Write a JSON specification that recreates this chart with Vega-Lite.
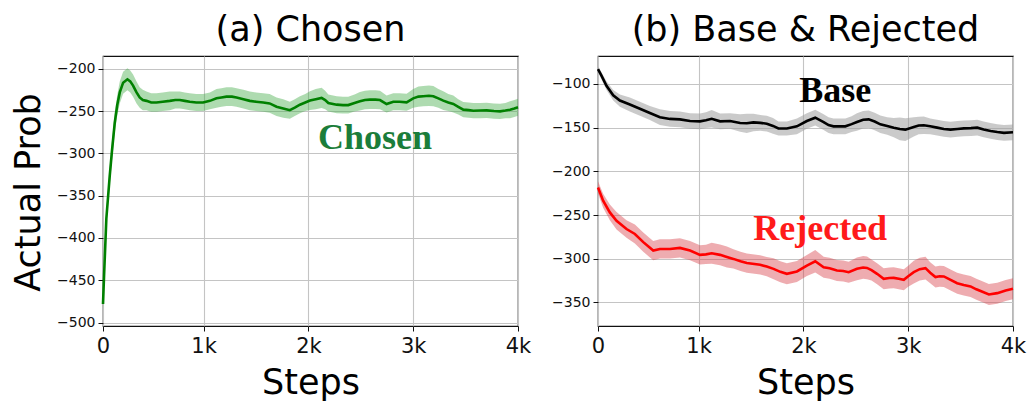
{
  "$schema": "https://vega.github.io/schema/vega-lite/v6.json",
  "padding": {"left": 10, "top": 12, "right": 5, "bottom": 5},
  "background": "white",
  "config": {
    "view": {"stroke": "#111", "strokeWidth": 1.2},
    "axis": {
      "domain": false,
      "grid": true,
      "gridColor": "#c4c4c4",
      "gridWidth": 1.1,
      "tickColor": "#111",
      "tickSize": 5,
      "tickWidth": 1,
      "labelFlush": false,
      "labelOverlap": false,
      "labelFont": "DejaVu Sans",
      "labelColor": "#111",
      "titleFont": "DejaVu Sans",
      "titleFontWeight": "normal",
      "titleColor": "black"
    },
    "title": {"font": "DejaVu Sans", "fontWeight": "normal", "color": "black"}
  },
  "datasets": {
    "chosen": [
      {"step": 40, "mean": -478, "lo": -486, "hi": -470},
      {"step": 50, "mean": -445, "lo": -454, "hi": -436},
      {"step": 72, "mean": -377, "lo": -387, "hi": -367},
      {"step": 104, "mean": -327, "lo": -338, "hi": -316},
      {"step": 125, "mean": -298, "lo": -310, "hi": -286},
      {"step": 152, "mean": -264, "lo": -276, "hi": -252},
      {"step": 176, "mean": -243, "lo": -255, "hi": -231},
      {"step": 200, "mean": -228, "lo": -241, "hi": -215},
      {"step": 232, "mean": -216.5, "lo": -229.5, "hi": -203.5},
      {"step": 273, "mean": -212.5, "lo": -225.5, "hi": -199.5},
      {"step": 300, "mean": -215, "lo": -228, "hi": -202},
      {"step": 327, "mean": -220, "lo": -233, "hi": -207},
      {"step": 360, "mean": -228, "lo": -241, "hi": -215},
      {"step": 390, "mean": -234, "lo": -246, "hi": -222},
      {"step": 420, "mean": -237, "lo": -249, "hi": -225},
      {"step": 455, "mean": -238, "lo": -249, "hi": -227},
      {"step": 500, "mean": -240, "lo": -251, "hi": -229},
      {"step": 550, "mean": -240, "lo": -251, "hi": -229},
      {"step": 610, "mean": -239, "lo": -250, "hi": -228},
      {"step": 677, "mean": -238, "lo": -249, "hi": -227},
      {"step": 730, "mean": -237, "lo": -247, "hi": -227},
      {"step": 773, "mean": -237, "lo": -247, "hi": -227},
      {"step": 820, "mean": -238, "lo": -248, "hi": -228},
      {"step": 868, "mean": -239, "lo": -249, "hi": -229},
      {"step": 930, "mean": -240, "lo": -250, "hi": -230},
      {"step": 995, "mean": -240, "lo": -250, "hi": -230},
      {"step": 1060, "mean": -238, "lo": -248, "hi": -228},
      {"step": 1123, "mean": -235, "lo": -246, "hi": -224},
      {"step": 1170, "mean": -234, "lo": -245, "hi": -223},
      {"step": 1218, "mean": -233, "lo": -244, "hi": -222},
      {"step": 1270, "mean": -233, "lo": -244, "hi": -222},
      {"step": 1314, "mean": -234, "lo": -245, "hi": -223},
      {"step": 1380, "mean": -236, "lo": -247, "hi": -225},
      {"step": 1441, "mean": -238, "lo": -249, "hi": -227},
      {"step": 1500, "mean": -239, "lo": -250, "hi": -228},
      {"step": 1569, "mean": -240, "lo": -251, "hi": -229},
      {"step": 1630, "mean": -241, "lo": -252, "hi": -230},
      {"step": 1696, "mean": -245, "lo": -256, "hi": -234},
      {"step": 1760, "mean": -247, "lo": -258, "hi": -236},
      {"step": 1823, "mean": -249, "lo": -259, "hi": -239},
      {"step": 1870, "mean": -246, "lo": -256, "hi": -236},
      {"step": 1919, "mean": -242.5, "lo": -252.5, "hi": -232.5},
      {"step": 1970, "mean": -240, "lo": -250, "hi": -230},
      {"step": 2015, "mean": -237.7, "lo": -248.7, "hi": -226.7},
      {"step": 2070, "mean": -236, "lo": -248, "hi": -224},
      {"step": 2126, "mean": -234.5, "lo": -246.5, "hi": -222.5},
      {"step": 2160, "mean": -237, "lo": -248, "hi": -226},
      {"step": 2190, "mean": -240.5, "lo": -250.5, "hi": -230.5},
      {"step": 2270, "mean": -242.5, "lo": -252.5, "hi": -232.5},
      {"step": 2330, "mean": -243, "lo": -253, "hi": -233},
      {"step": 2380, "mean": -243, "lo": -253, "hi": -233},
      {"step": 2440, "mean": -240.5, "lo": -250.5, "hi": -230.5},
      {"step": 2492, "mean": -238.5, "lo": -249.5, "hi": -227.5},
      {"step": 2540, "mean": -237, "lo": -248, "hi": -226},
      {"step": 2587, "mean": -236.5, "lo": -247.5, "hi": -225.5},
      {"step": 2640, "mean": -236.5, "lo": -247.5, "hi": -225.5},
      {"step": 2683, "mean": -237, "lo": -248, "hi": -226},
      {"step": 2746, "mean": -241.7, "lo": -251.7, "hi": -231.7},
      {"step": 2810, "mean": -239, "lo": -249, "hi": -229},
      {"step": 2870, "mean": -239, "lo": -249, "hi": -229},
      {"step": 2937, "mean": -239.7, "lo": -249.7, "hi": -229.7},
      {"step": 3000, "mean": -235, "lo": -246, "hi": -224},
      {"step": 3050, "mean": -233, "lo": -245, "hi": -221},
      {"step": 3096, "mean": -232.5, "lo": -244.5, "hi": -220.5},
      {"step": 3150, "mean": -232, "lo": -244, "hi": -220},
      {"step": 3192, "mean": -232.5, "lo": -244.5, "hi": -220.5},
      {"step": 3240, "mean": -235, "lo": -246, "hi": -224},
      {"step": 3287, "mean": -237.7, "lo": -248.7, "hi": -226.7},
      {"step": 3335, "mean": -240, "lo": -250, "hi": -230},
      {"step": 3383, "mean": -241.7, "lo": -251.7, "hi": -231.7},
      {"step": 3430, "mean": -245, "lo": -254, "hi": -236},
      {"step": 3478, "mean": -248.4, "lo": -257.4, "hi": -239.4},
      {"step": 3530, "mean": -249, "lo": -258, "hi": -240},
      {"step": 3574, "mean": -249.6, "lo": -258.6, "hi": -240.6},
      {"step": 3640, "mean": -249.4, "lo": -258.4, "hi": -240.4},
      {"step": 3701, "mean": -249.2, "lo": -258.2, "hi": -240.2},
      {"step": 3770, "mean": -250, "lo": -259, "hi": -241},
      {"step": 3829, "mean": -250.4, "lo": -259.4, "hi": -241.4},
      {"step": 3880, "mean": -249.5, "lo": -258.5, "hi": -240.5},
      {"step": 3924, "mean": -248.4, "lo": -258.4, "hi": -238.4},
      {"step": 3965, "mean": -247, "lo": -257, "hi": -237},
      {"step": 4000, "mean": -245.6, "lo": -255.6, "hi": -235.6}
    ],
    "base": [
      {"step": 40, "mean": -83, "lo": -86, "hi": -80},
      {"step": 73, "mean": -90.5, "lo": -94.5, "hi": -86.5},
      {"step": 121, "mean": -102, "lo": -107, "hi": -97},
      {"step": 185, "mean": -113, "lo": -119, "hi": -107},
      {"step": 249, "mean": -119, "lo": -126, "hi": -112},
      {"step": 344, "mean": -123.5, "lo": -131.5, "hi": -115.5},
      {"step": 440, "mean": -128.4, "lo": -136.4, "hi": -120.4},
      {"step": 535, "mean": -133.3, "lo": -141.3, "hi": -125.3},
      {"step": 631, "mean": -138, "lo": -147, "hi": -129},
      {"step": 727, "mean": -140, "lo": -149, "hi": -131},
      {"step": 822, "mean": -140.5, "lo": -149.5, "hi": -131.5},
      {"step": 918, "mean": -142.4, "lo": -151.4, "hi": -133.4},
      {"step": 1013, "mean": -142.8, "lo": -151.8, "hi": -133.8},
      {"step": 1070, "mean": -141.5, "lo": -150.5, "hi": -132.5},
      {"step": 1125, "mean": -139.8, "lo": -149.8, "hi": -129.8},
      {"step": 1205, "mean": -142.8, "lo": -151.8, "hi": -133.8},
      {"step": 1300, "mean": -142.4, "lo": -151.4, "hi": -133.4},
      {"step": 1396, "mean": -144.7, "lo": -154.7, "hi": -134.7},
      {"step": 1460, "mean": -145, "lo": -156, "hi": -134},
      {"step": 1523, "mean": -144, "lo": -154, "hi": -134},
      {"step": 1590, "mean": -144.5, "lo": -153.5, "hi": -135.5},
      {"step": 1651, "mean": -145.5, "lo": -154.5, "hi": -136.5},
      {"step": 1710, "mean": -148, "lo": -157, "hi": -139},
      {"step": 1762, "mean": -151, "lo": -159, "hi": -143},
      {"step": 1842, "mean": -151, "lo": -159, "hi": -143},
      {"step": 1938, "mean": -148.5, "lo": -157.5, "hi": -139.5},
      {"step": 2033, "mean": -142.4, "lo": -151.4, "hi": -133.4},
      {"step": 2113, "mean": -138.6, "lo": -147.6, "hi": -129.6},
      {"step": 2193, "mean": -143.6, "lo": -152.6, "hi": -134.6},
      {"step": 2240, "mean": -147, "lo": -156, "hi": -138},
      {"step": 2288, "mean": -148.5, "lo": -157.5, "hi": -139.5},
      {"step": 2400, "mean": -148.5, "lo": -157.5, "hi": -139.5},
      {"step": 2460, "mean": -146, "lo": -155, "hi": -137},
      {"step": 2511, "mean": -143.6, "lo": -153.6, "hi": -133.6},
      {"step": 2570, "mean": -141, "lo": -151, "hi": -131},
      {"step": 2623, "mean": -140.5, "lo": -150.5, "hi": -130.5},
      {"step": 2680, "mean": -143, "lo": -153, "hi": -133},
      {"step": 2734, "mean": -146.2, "lo": -156.2, "hi": -136.2},
      {"step": 2800, "mean": -148, "lo": -158, "hi": -138},
      {"step": 2862, "mean": -150, "lo": -161, "hi": -139},
      {"step": 2920, "mean": -151.5, "lo": -164.5, "hi": -138.5},
      {"step": 2973, "mean": -152.3, "lo": -165.3, "hi": -139.3},
      {"step": 3053, "mean": -149.2, "lo": -160.2, "hi": -138.2},
      {"step": 3100, "mean": -147.5, "lo": -157.5, "hi": -137.5},
      {"step": 3149, "mean": -147.3, "lo": -157.3, "hi": -137.3},
      {"step": 3210, "mean": -148.5, "lo": -157.5, "hi": -139.5},
      {"step": 3276, "mean": -150, "lo": -159, "hi": -141},
      {"step": 3340, "mean": -151.5, "lo": -160.5, "hi": -142.5},
      {"step": 3404, "mean": -152.3, "lo": -161.3, "hi": -143.3},
      {"step": 3470, "mean": -151.5, "lo": -160.5, "hi": -142.5},
      {"step": 3531, "mean": -150.8, "lo": -159.8, "hi": -141.8},
      {"step": 3600, "mean": -150.5, "lo": -159.5, "hi": -141.5},
      {"step": 3659, "mean": -150, "lo": -159, "hi": -141},
      {"step": 3720, "mean": -152, "lo": -161, "hi": -143},
      {"step": 3786, "mean": -153.8, "lo": -162.8, "hi": -144.8},
      {"step": 3850, "mean": -155, "lo": -164, "hi": -146},
      {"step": 3914, "mean": -156, "lo": -165, "hi": -147},
      {"step": 4000, "mean": -155.3, "lo": -164.3, "hi": -146.3}
    ],
    "rejected": [
      {"step": 40, "mean": -218.4, "lo": -225.4, "hi": -211.4},
      {"step": 89, "mean": -233.6, "lo": -241.6, "hi": -225.6},
      {"step": 153, "mean": -247, "lo": -256, "hi": -238},
      {"step": 217, "mean": -256.5, "lo": -266.5, "hi": -246.5},
      {"step": 312, "mean": -266, "lo": -276, "hi": -256},
      {"step": 392, "mean": -271.7, "lo": -282.7, "hi": -260.7},
      {"step": 472, "mean": -281, "lo": -292, "hi": -270},
      {"step": 530, "mean": -287, "lo": -298, "hi": -276},
      {"step": 567, "mean": -290.7, "lo": -301.7, "hi": -279.7},
      {"step": 631, "mean": -288.8, "lo": -299.8, "hi": -277.8},
      {"step": 727, "mean": -288.8, "lo": -299.8, "hi": -277.8},
      {"step": 822, "mean": -287.6, "lo": -298.6, "hi": -276.6},
      {"step": 918, "mean": -290.7, "lo": -301.7, "hi": -279.7},
      {"step": 1013, "mean": -295.6, "lo": -306.6, "hi": -284.6},
      {"step": 1070, "mean": -295, "lo": -306, "hi": -284},
      {"step": 1125, "mean": -293.7, "lo": -305.7, "hi": -281.7},
      {"step": 1205, "mean": -295.6, "lo": -307.6, "hi": -283.6},
      {"step": 1270, "mean": -298, "lo": -310, "hi": -286},
      {"step": 1332, "mean": -300.2, "lo": -311.2, "hi": -289.2},
      {"step": 1400, "mean": -303, "lo": -314, "hi": -292},
      {"step": 1460, "mean": -305, "lo": -316, "hi": -294},
      {"step": 1587, "mean": -307, "lo": -318, "hi": -296},
      {"step": 1650, "mean": -309, "lo": -320, "hi": -298},
      {"step": 1715, "mean": -311.6, "lo": -323.6, "hi": -299.6},
      {"step": 1780, "mean": -315, "lo": -327, "hi": -303},
      {"step": 1842, "mean": -317.3, "lo": -329.3, "hi": -305.3},
      {"step": 1938, "mean": -314.6, "lo": -326.6, "hi": -302.6},
      {"step": 2033, "mean": -307.8, "lo": -319.8, "hi": -295.8},
      {"step": 2113, "mean": -302.9, "lo": -315.9, "hi": -289.9},
      {"step": 2193, "mean": -309.7, "lo": -321.7, "hi": -297.7},
      {"step": 2250, "mean": -311, "lo": -323, "hi": -299},
      {"step": 2320, "mean": -313.5, "lo": -325.5, "hi": -301.5},
      {"step": 2380, "mean": -314, "lo": -326, "hi": -302},
      {"step": 2432, "mean": -315.4, "lo": -327.4, "hi": -303.4},
      {"step": 2511, "mean": -311.6, "lo": -324.6, "hi": -298.6},
      {"step": 2570, "mean": -310, "lo": -323, "hi": -297},
      {"step": 2607, "mean": -310.5, "lo": -323.5, "hi": -297.5},
      {"step": 2650, "mean": -313, "lo": -325, "hi": -301},
      {"step": 2703, "mean": -317.3, "lo": -329.3, "hi": -305.3},
      {"step": 2766, "mean": -323, "lo": -335, "hi": -311},
      {"step": 2820, "mean": -322, "lo": -334, "hi": -310},
      {"step": 2862, "mean": -321.9, "lo": -333.9, "hi": -309.9},
      {"step": 2910, "mean": -323, "lo": -335, "hi": -311},
      {"step": 2958, "mean": -324.1, "lo": -336.1, "hi": -312.1},
      {"step": 3000, "mean": -320, "lo": -332, "hi": -308},
      {"step": 3053, "mean": -315.4, "lo": -328.4, "hi": -302.4},
      {"step": 3110, "mean": -312, "lo": -325, "hi": -299},
      {"step": 3165, "mean": -310.8, "lo": -323.8, "hi": -297.8},
      {"step": 3210, "mean": -316, "lo": -328, "hi": -304},
      {"step": 3260, "mean": -321, "lo": -333, "hi": -309},
      {"step": 3300, "mean": -320, "lo": -332, "hi": -308},
      {"step": 3340, "mean": -320.3, "lo": -332.3, "hi": -308.3},
      {"step": 3400, "mean": -324, "lo": -336, "hi": -312},
      {"step": 3467, "mean": -328, "lo": -340, "hi": -316},
      {"step": 3530, "mean": -330, "lo": -342, "hi": -318},
      {"step": 3595, "mean": -331.7, "lo": -343.7, "hi": -319.7},
      {"step": 3650, "mean": -335, "lo": -347, "hi": -323},
      {"step": 3691, "mean": -337, "lo": -349, "hi": -325},
      {"step": 3770, "mean": -340.9, "lo": -352.9, "hi": -328.9},
      {"step": 3850, "mean": -339.4, "lo": -351.4, "hi": -327.4},
      {"step": 3930, "mean": -336.3, "lo": -348.3, "hi": -324.3},
      {"step": 4000, "mean": -334.4, "lo": -346.4, "hi": -322.4}
    ],
    "labelsA": [{"step": 2635, "val": -281.8, "label": "Chosen"}],
    "labelsB": [
      {"step": 2304, "val": -107.7, "label": "Base", "kind": "base"},
      {"step": 2160, "val": -265.6, "label": "Rejected", "kind": "rej"}
    ]
  },
  "bounds": "flush",
  "spacing": 80,
  "hconcat": [
    {
      "width": 415,
      "height": 270,
      "title": {"text": "(a) Chosen", "fontSize": 35, "anchor": "middle", "frame": "group", "baseline": "alphabetic", "offset": -20},
      "encoding": {
        "x": {"field": "step", "type": "quantitative",
          "scale": {"domain": [40, 4000], "nice": false, "zero": false},
          "axis": {"values": [40, 1000, 2000, 3000, 4000], "labelExpr": "datum.value < 500 ? '0' : (datum.value / 1000) + 'k'", "labelFontSize": 21, "labelPadding": 4, "title": "Steps", "titleFontSize": 35, "titleBaseline": "alphabetic", "titleY": 67, "titleX": 207.5}
        }
      },
      "layer": [
        {
          "data": {"name": "chosen"},
          "mark": {"type": "area", "color": "#4caf50", "opacity": 0.45},
          "encoding": {
            "y": {"field": "lo", "type": "quantitative",
              "scale": {"domain": [-504, -185], "nice": false, "zero": false},
              "axis": {"values": [-500, -450, -400, -350, -300, -250, -200], "labelFontSize": 14, "labelPadding": 3, "title": "Actual Prob", "titleFontSize": 35, "titleBaseline": "alphabetic", "titleAngle": 270, "titleX": -64, "titleY": 136}},
            "y2": {"field": "hi"}
          }
        },
        {
          "data": {"name": "chosen"},
          "mark": {"type": "line", "color": "#008000", "strokeWidth": 2.6},
          "encoding": {"y": {"field": "mean", "type": "quantitative"}}
        },
        {
          "data": {"name": "labelsA"},
          "mark": {"type": "text", "font": "Liberation Serif", "fontWeight": "bold", "fontSize": 36, "color": "#1b7d3a", "baseline": "middle", "align": "center"},
          "encoding": {"y": {"field": "val", "type": "quantitative"}, "text": {"field": "label"}}
        }
      ]
    },
    {
      "width": 415,
      "height": 270,
      "title": {"text": "(b) Base & Rejected", "fontSize": 35, "anchor": "middle", "frame": "group", "baseline": "alphabetic", "offset": -20},
      "encoding": {
        "x": {"field": "step", "type": "quantitative",
          "scale": {"domain": [40, 4000], "nice": false, "zero": false},
          "axis": {"values": [40, 1000, 2000, 3000, 4000], "labelExpr": "datum.value < 500 ? '0' : (datum.value / 1000) + 'k'", "labelFontSize": 21, "labelPadding": 4, "title": "Steps", "titleFontSize": 35, "titleBaseline": "alphabetic", "titleY": 67, "titleX": 207.5}
        }
      },
      "layer": [
        {
          "data": {"name": "base"},
          "mark": {"type": "area", "color": "#9e9e9e", "opacity": 0.55},
          "encoding": {
            "y": {"field": "lo", "type": "quantitative",
              "scale": {"domain": [-377, -68], "nice": false, "zero": false},
              "axis": {"values": [-350, -300, -250, -200, -150, -100], "labelFontSize": 14, "labelPadding": 3, "title": null}},
            "y2": {"field": "hi"}
          }
        },
        {
          "data": {"name": "rejected"},
          "mark": {"type": "area", "color": "#d9464f", "opacity": 0.45},
          "encoding": {"y": {"field": "lo", "type": "quantitative"}, "y2": {"field": "hi"}}
        },
        {
          "data": {"name": "base"},
          "mark": {"type": "line", "color": "#000000", "strokeWidth": 2.6},
          "encoding": {"y": {"field": "mean", "type": "quantitative"}}
        },
        {
          "data": {"name": "rejected"},
          "mark": {"type": "line", "color": "#ff0000", "strokeWidth": 2.6},
          "encoding": {"y": {"field": "mean", "type": "quantitative"}}
        },
        {
          "data": {"name": "labelsB"},
          "mark": {"type": "text", "font": "Liberation Serif", "fontWeight": "bold", "fontSize": 36, "baseline": "middle", "align": "center"},
          "encoding": {
            "y": {"field": "val", "type": "quantitative"},
            "text": {"field": "label"},
            "color": {"field": "kind", "type": "nominal", "scale": {"domain": ["base", "rej"], "range": ["#000000", "#ff1a1a"]}, "legend": null}
          }
        }
      ]
    }
  ]
}
